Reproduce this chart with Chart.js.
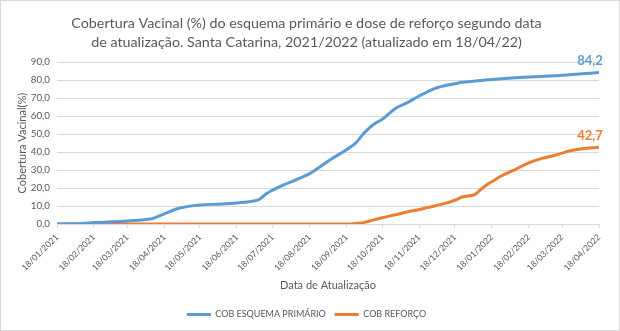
<!DOCTYPE html>
<html>
<head>
<meta charset="utf-8">
<script src="https://cdn.jsdelivr.net/npm/chart.js@4"></script>
<style>
  body { margin: 0; background: #fff; }
  #box { width: 620px; height: 331px; box-sizing: border-box; border: 1px solid #d9d9d9; position: relative; }
</style>
</head>
<body>
<div id="box"><canvas id="myChart"></canvas></div>
<script>
// datas de atualização (amostradas do gráfico)
var datas = ["18/01/2021", "01/02/2021", "08/02/2021", "18/02/2021", "04/03/2021", "18/03/2021",
  "01/04/2021", "09/04/2021", "18/04/2021", "29/04/2021", "08/05/2021", "18/05/2021",
  "05/06/2021", "18/06/2021", "03/07/2021", "07/07/2021", "13/07/2021", "18/07/2021",
  "25/07/2021", "08/08/2021", "18/08/2021", "05/09/2021", "18/09/2021", "26/09/2021",
  "03/10/2021", "11/10/2021", "18/10/2021", "29/10/2021", "08/11/2021", "18/11/2021",
  "01/12/2021", "12/12/2021", "18/12/2021", "24/12/2021", "04/01/2022", "09/01/2022",
  "15/01/2022", "18/01/2022", "26/01/2022", "07/02/2022", "18/02/2022", "01/03/2022",
  "12/03/2022", "18/03/2022", "24/03/2022", "04/04/2022", "18/04/2022"];
var cobPrimario = [0.0, 0.1, 0.3, 0.8, 1.2, 1.7,
  2.4, 3.2, 5.6, 8.5, 9.8, 10.6,
  11.1, 11.7, 12.9, 13.8, 17.0, 18.8,
  21.1, 24.9, 28.0, 36.0, 41.3, 45.2,
  50.8, 55.5, 58.2, 64.3, 67.5, 71.2,
  75.3, 77.3, 78.0, 78.8, 79.5, 79.8,
  80.2, 80.4, 80.8, 81.3, 81.7, 82.0,
  82.4, 82.7, 83.0, 83.5, 84.2];
var cobReforco = [0, 0, 0, 0, 0, 0,
  0, 0, 0, 0, 0, 0,
  0, 0, 0, 0, 0, 0,
  0, 0, 0, 0, 0, 0.3,
  0.9, 2.3, 3.5, 5.1, 6.7, 8.1,
  10.0, 11.9, 13.2, 15.0, 16.5, 19.3,
  22.4, 23.5, 26.7, 30.4, 34.0, 36.5,
  38.2, 39.4, 40.6, 41.9, 42.7];
var tickLabels = ["18/01/2021", "18/02/2021", "18/03/2021", "18/04/2021", "18/05/2021",
  "18/06/2021", "18/07/2021", "18/08/2021", "18/09/2021", "18/10/2021", "18/11/2021",
  "18/12/2021", "18/01/2022", "18/02/2022", "18/03/2022", "18/04/2022"];

var azul = "#5b9bd5";
var laranja = "#ed7d31";
var cinza = "#595959";

function diaDe(s) {
  var p = s.split("/");
  var t = Date.UTC(+p[2], +p[1] - 1, +p[0]);
  var t0 = Date.UTC(2021, 0, 18);
  return Math.round((t - t0) / 86400000);
}
function pontos(vals) {
  return vals.map(function (v, i) { return { x: diaDe(datas[i]), y: v }; });
}
function virgula(v) {
  return v.toFixed(1).replace(".", ",");
}

var rotuloFinal = {
  id: "rotuloFinal",
  afterDatasetsDraw: function (chart) {
    var ctx = chart.ctx;
    ctx.save();
    ctx.font = "bold 13px Lato, 'Liberation Sans', sans-serif";
    ctx.textAlign = "center";
    ctx.textBaseline = "bottom";
    chart.data.datasets.forEach(function (ds, i) {
      var meta = chart.getDatasetMeta(i);
      var pt = meta.data[meta.data.length - 1];
      ctx.fillStyle = ds.borderColor;
      ctx.fillText(virgula(ds.data[ds.data.length - 1].y), pt.x - 9, pt.y - 5);
    });
    ctx.restore();
  }
};

Chart.defaults.font.family = "Lato, 'Liberation Sans', sans-serif";
Chart.defaults.color = cinza;

new Chart("myChart", {
  type: "line",
  data: {
    datasets: [
      {
        label: "COB ESQUEMA PRIMÁRIO",
        data: pontos(cobPrimario),
        borderColor: azul,
        backgroundColor: azul,
        borderWidth: 3,
        pointRadius: 0,
        cubicInterpolationMode: "monotone",
      },
      {
        label: "COB REFORÇO",
        data: pontos(cobReforco),
        borderColor: laranja,
        backgroundColor: laranja,
        borderWidth: 3,
        pointRadius: 0,
        cubicInterpolationMode: "monotone",
      },
    ],
  },
  plugins: [rotuloFinal],
  options: {
    responsive: true,
    maintainAspectRatio: false,
    animation: false,
    layout: { padding: { left: 13, right: 20, top: 6, bottom: 1 } },
    scales: {
      x: {
        type: "linear",
        min: 0,
        max: diaDe(tickLabels[tickLabels.length - 1]),
        afterBuildTicks: function (scale) {
          scale.ticks = tickLabels.map(function (s) { return { value: diaDe(s) }; });
        },
        afterFit: function (scale) { scale.height = 77; },
        ticks: {
          autoSkip: false,
          minRotation: 45,
          maxRotation: 45,
          font: { size: 8.6 },
          color: cinza,
          padding: 4,
          callback: function (v) {
            for (var i = 0; i < tickLabels.length; i++) {
              if (diaDe(tickLabels[i]) === v) return tickLabels[i];
            }
            return "";
          },
        },
        grid: { drawOnChartArea: false, tickLength: 4, color: "#d9d9d9" },
        border: { color: "#d9d9d9" },
        title: { display: true, text: "Data de Atualização", font: { size: 11 }, color: cinza, padding: { top: 4, bottom: 9 } },
      },
      y: {
        min: 0,
        max: 90,
        afterFit: function (scale) { scale.width = 43; },
        ticks: { stepSize: 10, font: { size: 9.8 }, color: cinza, padding: 7, callback: virgula },
        grid: { color: "#d9d9d9", drawTicks: false },
        border: { display: false },
        title: { display: true, text: "Cobertura Vacinal(%)", font: { size: 11 }, color: cinza, padding: 2 },
      },
    },
    plugins: {
      title: {
        display: true,
        text: ["Cobertura Vacinal (%) do esquema primário e dose de reforço segundo data",
               "de atualização. Santa Catarina, 2021/2022 (atualizado em 18/04/22)"],
        font: { size: 14.3, weight: "normal", lineHeight: 1.3 },
        color: cinza,
        padding: { top: 7, bottom: 11 },
      },
      legend: {
        position: "bottom",
        labels: {
          usePointStyle: true,
          pointStyle: "line",
          pointStyleWidth: 24,
          font: { size: 9 },
          color: cinza,
          padding: 9,
        },
      },
      tooltip: { enabled: false },
    },
  },
});
</script>
</body>
</html>
